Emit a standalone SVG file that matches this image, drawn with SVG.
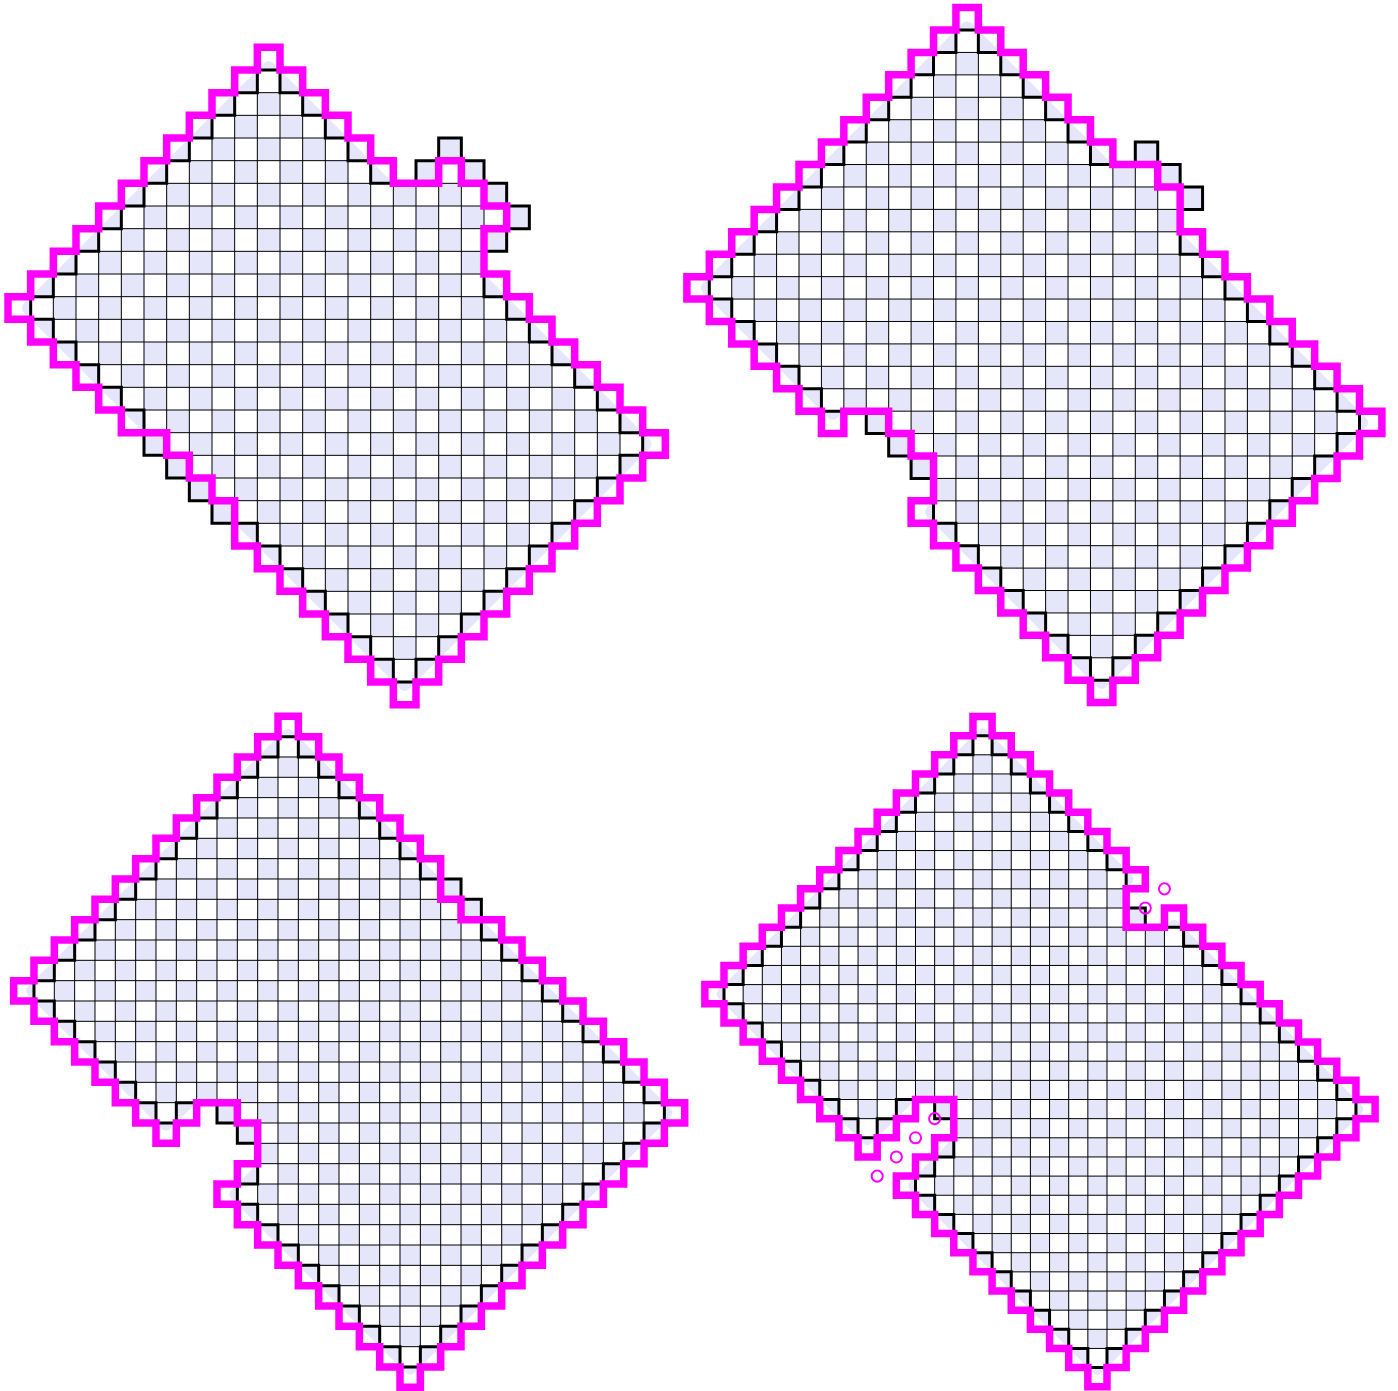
<svg xmlns="http://www.w3.org/2000/svg" width="1398" height="1391" viewBox="0 0 1398 1391">
<style>
.lav{fill:#e6e6fa;stroke:#e6e6fa;stroke-linejoin:round;stroke-width:0.566}
.lavfill{fill:#e6e6fa}
.wd{fill:none;stroke:#fff;stroke-width:1;stroke-dasharray:1 1}
.wd1{stroke-dashoffset:1}
.grid{fill:none;stroke:#000;stroke-width:1;vector-effect:non-scaling-stroke}
.inner{fill:none;stroke:#000;stroke-width:3;stroke-linejoin:miter}
.outer{fill:none;stroke:#f0f;stroke-width:7.5;stroke-linejoin:miter}
.dot{fill:none;stroke:#f0f;stroke-width:2;vector-effect:non-scaling-stroke}
</style>
<defs>
<path id="iTL" vector-effect="non-scaling-stroke" d="M11 1H12V2H13V3H14V4H15V5H16V6H18V5H19V4H20V5H21V6H22V7H23V8H22V9H21V11H22V12H23V13H24V14H25V15H26V16H27V17H28V18H27V19H26V20H25V21H24V22H23V23H22V24H21V25H20V26H19V27H18V28H17V27H16V26H15V25H14V24H13V23H12V22H11V21H9V20H8V19H7V18H6V16H5V15H4V14H3V13H2V12H1V11H2V10H3V9H4V8H5V7H6V6H7V5H8V4H9V3H10V2H11Z"/>
<path id="oTL" vector-effect="non-scaling-stroke" d="M11 0H12V1H13V2H14V3H15V4H16V5H17V6H19V5H20V6H21V7H22V8H21V10H22V11H23V12H24V13H25V14H26V15H27V16H28V17H29V18H28V19H27V20H26V21H25V22H24V23H23V24H22V25H21V26H20V27H19V28H18V29H17V28H16V27H15V26H14V25H13V24H12V23H11V22H10V20H9V19H8V18H7V17H5V16H4V15H3V14H2V13H1V12H0V11H1V10H2V9H3V8H4V7H5V6H6V5H7V4H8V3H9V2H10V1H11Z"/>
<path id="iTR" vector-effect="non-scaling-stroke" d="M12 1H13V2H14V3H15V4H16V5H17V6H18V7H20V6H21V7H22V8H23V9H22V11H23V12H24V13H25V14H26V15H27V16H28V17H29V18H30V19H29V20H28V21H27V22H26V23H25V24H24V25H23V26H22V27H21V28H20V29H19V30H18V29H17V28H16V27H15V26H14V25H13V24H12V23H11V21H10V20H9V19H8V18H6V17H5V16H4V15H3V14H2V13H1V12H2V11H3V10H4V9H5V8H6V7H7V6H8V5H9V4H10V3H11V2H12Z"/>
<path id="oTR" vector-effect="non-scaling-stroke" d="M12 0H13V1H14V2H15V3H16V4H17V5H18V6H19V7H21V8H22V10H23V11H24V12H25V13H26V14H27V15H28V16H29V17H30V18H31V19H30V20H29V21H28V22H27V23H26V24H25V25H24V26H23V27H22V28H21V29H20V30H19V31H18V30H17V29H16V28H15V27H14V26H13V25H12V24H11V23H10V22H11V20H10V19H9V18H7V19H6V18H5V17H4V16H3V15H2V14H1V13H0V12H1V11H2V10H3V9H4V8H5V7H6V6H7V5H8V4H9V3H10V2H11V1H12Z"/>
<path id="iBL" vector-effect="non-scaling-stroke" d="M13 1H14V2H15V3H16V4H17V5H18V6H19V7H20V8H22V9H23V11H24V12H25V13H26V14H27V15H28V16H29V17H30V18H31V19H32V20H31V21H30V22H29V23H28V24H27V25H26V26H25V27H24V28H23V29H22V30H21V31H20V32H19V31H18V30H17V29H16V28H15V27H14V26H13V25H12V24H11V23H12V21H11V20H10V19H8V20H7V19H6V18H5V17H4V16H3V15H2V14H1V13H2V12H3V11H4V10H5V9H6V8H7V7H8V6H9V5H10V4H11V3H12V2H13Z"/>
<path id="oBL" vector-effect="non-scaling-stroke" d="M13 0H14V1H15V2H16V3H17V4H18V5H19V6H20V7H21V9H22V10H24V11H25V12H26V13H27V14H28V15H29V16H30V17H31V18H32V19H33V20H32V21H31V22H30V23H29V24H28V25H27V26H26V27H25V28H24V29H23V30H22V31H21V32H20V33H19V32H18V31H17V30H16V29H15V28H14V27H13V26H12V25H11V24H10V23H11V22H12V20H11V19H9V20H8V21H7V20H6V19H5V18H4V17H3V16H2V15H1V14H0V13H1V12H2V11H3V10H4V9H5V8H6V7H7V6H8V5H9V4H10V3H11V2H12V1H13Z"/>
<path id="iBR" vector-effect="non-scaling-stroke" d="M14 1H15V2H16V3H17V4H18V5H19V6H20V7H21V8H22V10H23V11H25V12H26V13H27V14H28V15H29V16H30V17H31V18H32V19H33V20H34V21H33V22H32V23H31V24H30V25H29V26H28V27H27V28H26V29H25V30H24V31H23V32H22V33H21V34H20V33H19V32H18V31H17V30H16V29H15V28H14V27H13V26H12V25H11V24H12V23H13V21H12V20H10V21H9V22H8V21H7V20H6V19H5V18H4V17H3V16H2V15H1V14H2V13H3V12H4V11H5V10H6V9H7V8H8V7H9V6H10V5H11V4H12V3H13V2H14Z"/>
<path id="oBR" vector-effect="non-scaling-stroke" d="M14 0H15V1H16V2H17V3H18V4H19V5H20V6H21V7H22V8H23V9H22V11H24V10H25V11H26V12H27V13H28V14H29V15H30V16H31V17H32V18H33V19H34V20H35V21H34V22H33V23H32V24H31V25H30V26H29V27H28V28H27V29H26V30H25V31H24V32H23V33H22V34H21V35H20V34H19V33H18V32H17V31H16V30H15V29H14V28H13V27H12V26H11V25H10V24H11V23H12V22H13V20H11V21H10V22H9V23H8V22H7V21H6V20H5V19H4V18H3V17H2V16H1V15H0V14H1V13H2V12H3V11H4V10H5V9H6V8H7V7H8V6H9V5H10V4H11V3H12V2H13V1H14Z"/>
<clipPath id="cTL"><use href="#iTL"/></clipPath>
<clipPath id="cTR"><use href="#iTR"/></clipPath>
<clipPath id="cBL"><use href="#iBL"/></clipPath>
<clipPath id="cBR"><use href="#iBR"/></clipPath>
</defs>
<rect width="1398" height="1391" fill="#fff"/>

<g id="panel-tl" transform="translate(8 47.333) scale(22.667)">
<path class="lav" d="M11.5 0.9L28.1 17.5L17.5 28.1L0.9 11.5Z"/>
<use href="#iTL" class="lavfill"/>
<g clip-path="url(#cTL)">
<path class="wd" d="M0 .5H29M0 2.5H29M0 4.5H29M0 6.5H29M0 8.5H29M0 10.5H29M0 12.5H29M0 14.5H29M0 16.5H29M0 18.5H29M0 20.5H29M0 22.5H29M0 24.5H29M0 26.5H29M0 28.5H29"/>
<path class="wd wd1" d="M0 1.5H29M0 3.5H29M0 5.5H29M0 7.5H29M0 9.5H29M0 11.5H29M0 13.5H29M0 15.5H29M0 17.5H29M0 19.5H29M0 21.5H29M0 23.5H29M0 25.5H29M0 27.5H29"/>
<path class="grid" d="M0 1H29M0 2H29M0 3H29M0 4H29M0 5H29M0 6H29M0 7H29M0 8H29M0 9H29M0 10H29M0 11H29M0 12H29M0 13H29M0 14H29M0 15H29M0 16H29M0 17H29M0 18H29M0 19H29M0 20H29M0 21H29M0 22H29M0 23H29M0 24H29M0 25H29M0 26H29M0 27H29M0 28H29M1 0V29M2 0V29M3 0V29M4 0V29M5 0V29M6 0V29M7 0V29M8 0V29M9 0V29M10 0V29M11 0V29M12 0V29M13 0V29M14 0V29M15 0V29M16 0V29M17 0V29M18 0V29M19 0V29M20 0V29M21 0V29M22 0V29M23 0V29M24 0V29M25 0V29M26 0V29M27 0V29M28 0V29"/>
</g>
<use href="#iTL" class="inner"/>
<use href="#oTL" class="outer"/>
</g>

<g id="panel-tr" transform="translate(686.9 7.6) scale(22.42)">
<path class="lav" d="M12.5 0.9L30.1 18.5L18.5 30.1L10.9 22.5L13.15 20.25L8.75 15.85L6.5 18.1L0.9 12.5Z"/>
<use href="#iTR" class="lavfill"/>
<g clip-path="url(#cTR)">
<path class="wd" d="M0 1.5H31M0 3.5H31M0 5.5H31M0 7.5H31M0 9.5H31M0 11.5H31M0 13.5H31M0 15.5H31M0 17.5H31M0 19.5H31M0 21.5H31M0 23.5H31M0 25.5H31M0 27.5H31M0 29.5H31"/>
<path class="wd wd1" d="M0 .5H31M0 2.5H31M0 4.5H31M0 6.5H31M0 8.5H31M0 10.5H31M0 12.5H31M0 14.5H31M0 16.5H31M0 18.5H31M0 20.5H31M0 22.5H31M0 24.5H31M0 26.5H31M0 28.5H31M0 30.5H31"/>
<path class="grid" d="M0 1H31M0 2H31M0 3H31M0 4H31M0 5H31M0 6H31M0 7H31M0 8H31M0 9H31M0 10H31M0 11H31M0 12H31M0 13H31M0 14H31M0 15H31M0 16H31M0 17H31M0 18H31M0 19H31M0 20H31M0 21H31M0 22H31M0 23H31M0 24H31M0 25H31M0 26H31M0 27H31M0 28H31M0 29H31M0 30H31M1 0V31M2 0V31M3 0V31M4 0V31M5 0V31M6 0V31M7 0V31M8 0V31M9 0V31M10 0V31M11 0V31M12 0V31M13 0V31M14 0V31M15 0V31M16 0V31M17 0V31M18 0V31M19 0V31M20 0V31M21 0V31M22 0V31M23 0V31M24 0V31M25 0V31M26 0V31M27 0V31M28 0V31M29 0V31M30 0V31"/>
</g>
<use href="#iTR" class="inner"/>
<use href="#oTR" class="outer"/>
</g>

<g id="panel-bl" transform="translate(13.65 716.3) scale(20.335)">
<path class="lav" d="M13.5 0.9L32.1 19.5L19.5 32.1L10.9 23.5L14.15 20.25L10.75 16.85L7.5 20.1L0.9 13.5Z"/>
<use href="#iBL" class="lavfill"/>
<g clip-path="url(#cBL)">
<path class="wd" d="M0 .5H33M0 2.5H33M0 4.5H33M0 6.5H33M0 8.5H33M0 10.5H33M0 12.5H33M0 14.5H33M0 16.5H33M0 18.5H33M0 20.5H33M0 22.5H33M0 24.5H33M0 26.5H33M0 28.5H33M0 30.5H33M0 32.5H33"/>
<path class="wd wd1" d="M0 1.5H33M0 3.5H33M0 5.5H33M0 7.5H33M0 9.5H33M0 11.5H33M0 13.5H33M0 15.5H33M0 17.5H33M0 19.5H33M0 21.5H33M0 23.5H33M0 25.5H33M0 27.5H33M0 29.5H33M0 31.5H33"/>
<path class="grid" d="M0 1H33M0 2H33M0 3H33M0 4H33M0 5H33M0 6H33M0 7H33M0 8H33M0 9H33M0 10H33M0 11H33M0 12H33M0 13H33M0 14H33M0 15H33M0 16H33M0 17H33M0 18H33M0 19H33M0 20H33M0 21H33M0 22H33M0 23H33M0 24H33M0 25H33M0 26H33M0 27H33M0 28H33M0 29H33M0 30H33M0 31H33M0 32H33M1 0V33M2 0V33M3 0V33M4 0V33M5 0V33M6 0V33M7 0V33M8 0V33M9 0V33M10 0V33M11 0V33M12 0V33M13 0V33M14 0V33M15 0V33M16 0V33M17 0V33M18 0V33M19 0V33M20 0V33M21 0V33M22 0V33M23 0V33M24 0V33M25 0V33M26 0V33M27 0V33M28 0V33M29 0V33M30 0V33M31 0V33M32 0V33"/>
</g>
<use href="#iBL" class="inner"/>
<use href="#oBL" class="outer"/>
</g>

<g id="panel-br" transform="translate(704.85 716.5) scale(19.15)">
<path class="lav" d="M14.5 0.9L22.1 8.5L20.35 10.25L22.75 12.65L24.5 10.9L34.1 20.5L20.5 34.1L10.9 24.5L15.15 20.25L12.75 17.85L8.5 22.1L0.9 14.5Z"/>
<use href="#iBR" class="lavfill"/>
<g clip-path="url(#cBR)">
<path class="wd" d="M0 1.5H35M0 3.5H35M0 5.5H35M0 7.5H35M0 9.5H35M0 11.5H35M0 13.5H35M0 15.5H35M0 17.5H35M0 19.5H35M0 21.5H35M0 23.5H35M0 25.5H35M0 27.5H35M0 29.5H35M0 31.5H35M0 33.5H35"/>
<path class="wd wd1" d="M0 .5H35M0 2.5H35M0 4.5H35M0 6.5H35M0 8.5H35M0 10.5H35M0 12.5H35M0 14.5H35M0 16.5H35M0 18.5H35M0 20.5H35M0 22.5H35M0 24.5H35M0 26.5H35M0 28.5H35M0 30.5H35M0 32.5H35M0 34.5H35"/>
<path class="grid" d="M0 1H35M0 2H35M0 3H35M0 4H35M0 5H35M0 6H35M0 7H35M0 8H35M0 9H35M0 10H35M0 11H35M0 12H35M0 13H35M0 14H35M0 15H35M0 16H35M0 17H35M0 18H35M0 19H35M0 20H35M0 21H35M0 22H35M0 23H35M0 24H35M0 25H35M0 26H35M0 27H35M0 28H35M0 29H35M0 30H35M0 31H35M0 32H35M0 33H35M0 34H35M1 0V35M2 0V35M3 0V35M4 0V35M5 0V35M6 0V35M7 0V35M8 0V35M9 0V35M10 0V35M11 0V35M12 0V35M13 0V35M14 0V35M15 0V35M16 0V35M17 0V35M18 0V35M19 0V35M20 0V35M21 0V35M22 0V35M23 0V35M24 0V35M25 0V35M26 0V35M27 0V35M28 0V35M29 0V35M30 0V35M31 0V35M32 0V35M33 0V35M34 0V35"/>
</g>
<use href="#iBR" class="inner"/>
<use href="#oBR" class="outer"/>
<circle class="dot" cx="24" cy="9" r="0.29"/>
<circle class="dot" cx="23" cy="10" r="0.29"/>
<circle class="dot" cx="12" cy="21" r="0.29"/>
<circle class="dot" cx="11" cy="22" r="0.29"/>
<circle class="dot" cx="10" cy="23" r="0.29"/>
<circle class="dot" cx="9" cy="24" r="0.29"/>
</g>
</svg>
